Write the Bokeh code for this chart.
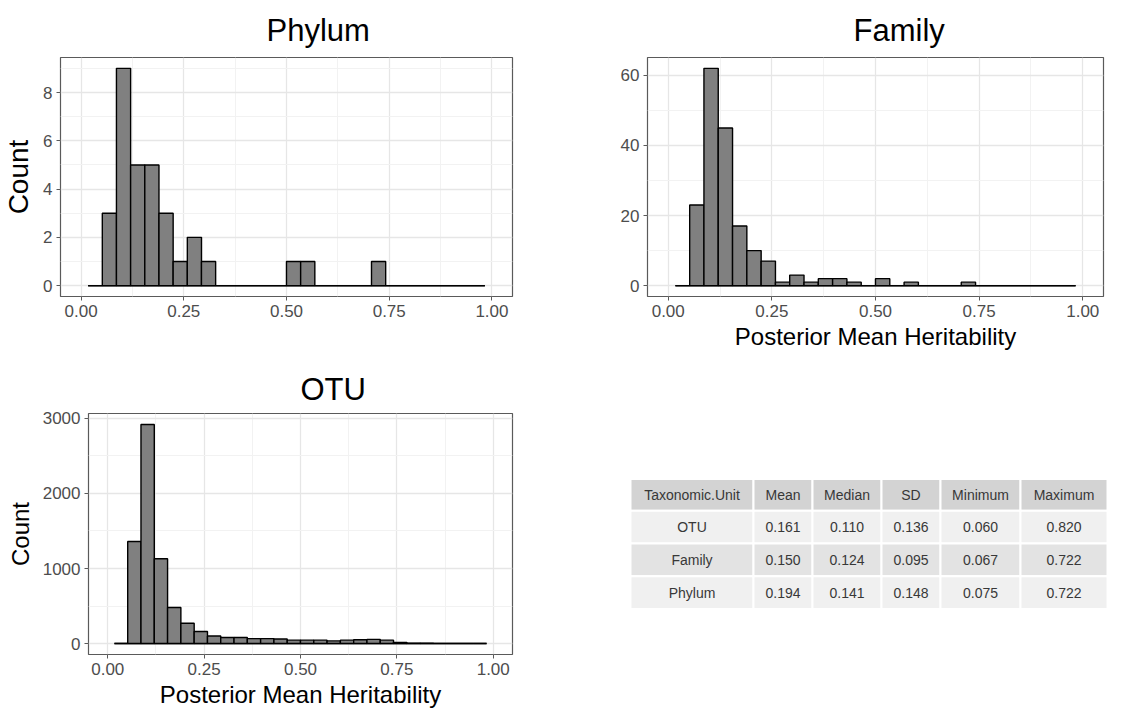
from bokeh.plotting import figure
from bokeh.models import Range1d, FixedTicker, NumeralTickFormatter, ColumnDataSource
from bokeh.layouts import column, row
from bokeh.embed import file_html
from bokeh.resources import INLINE
from bokeh.core.properties import value

# ---------------- data ----------------
bin_centers = [0.0345, 0.0690, 0.1034, 0.1379, 0.1724, 0.2069, 0.2414, 0.2759,
               0.3103, 0.3448, 0.3793, 0.4138, 0.4483, 0.4828, 0.5172, 0.5517,
               0.5862, 0.6207, 0.6552, 0.6897, 0.7241, 0.7586, 0.7931, 0.8276,
               0.8621, 0.8966, 0.9310, 0.9655]

phylum_counts = [0, 3, 9, 5, 5, 3, 1, 2, 1, 0, 0, 0, 0, 0,
                 1, 1, 0, 0, 0, 0, 1, 0, 0, 0, 0, 0, 0, 0]
family_counts = [0, 23, 62, 45, 17, 10, 7, 1, 3, 1, 2, 2, 1, 0,
                 2, 0, 1, 0, 0, 0, 1, 0, 0, 0, 0, 0, 0, 0]
otu_counts = [0, 1360, 2920, 1130, 480, 270, 160, 100, 80, 80, 65, 65, 60, 45,
              45, 45, 35, 45, 50, 55, 45, 15, 5, 3, 0, 0, 0, 0]

x_ticks = [0.0, 0.25, 0.5, 0.75, 1.0]
x_minor = [0.125, 0.375, 0.625, 0.875]
phylum_yticks = [0, 2, 4, 6, 8]
phylum_yminor = [1, 3, 5, 7, 9]
family_yticks = [0, 20, 40, 60]
family_yminor = [10, 30, 50]
otu_yticks = [0, 1000, 2000, 3000]
otu_yminor = [500, 1500, 2500]

table_header = ["Taxonomic.Unit", "Mean", "Median", "SD", "Minimum", "Maximum"]
tax_units = ["OTU", "Family", "Phylum"]
mean_vals = [0.161, 0.150, 0.194]
median_vals = [0.110, 0.124, 0.141]
sd_vals = [0.136, 0.095, 0.148]
min_vals = [0.060, 0.067, 0.075]
max_vals = [0.820, 0.722, 0.722]

FONT = "Liberation Sans"
BORDER = "#5a5a5a"


def hist_fig(title, counts, yticks, yminor, width, height, borders, ylabel, xlabel,
             title_standoff, title_offset, ylabel_size):
    left_b, right_b, top_b, bottom_b = borders
    ymax = max(counts)
    p = figure(width=width, height=height, output_backend="svg", toolbar_location=None,
               x_range=Range1d(-0.05, 1.05), y_range=Range1d(-0.05 * ymax, 1.05 * ymax),
               min_border_left=left_b, min_border_right=right_b,
               min_border_top=top_b, min_border_bottom=bottom_b,
               title=title)
    p.title.align = "left"
    p.title.offset = title_offset
    p.title.text_font = FONT
    p.title.text_font_size = "31px"
    p.title.text_font_style = "normal"
    p.title.text_color = "black"
    p.title.standoff = title_standoff
    p.outline_line_color = BORDER
    p.outline_line_width = 1.2
    p.background_fill_color = "white"
    p.border_fill_color = "white"

    w = bin_centers[1] - bin_centers[0]
    lefts = [c - w / 2 for c in bin_centers]
    rights = [c + w / 2 for c in bin_centers]
    src = ColumnDataSource(dict(left=lefts, right=rights, top=counts,
                                bottom=[0] * len(counts)))
    p.segment(x0=lefts[0], y0=0, x1=rights[-1], y1=0, line_color="black", line_width=1.5)
    p.quad(left="left", right="right", top="top", bottom="bottom", source=src,
           fill_color="#808080", line_color="black", line_width=1.4)

    p.xaxis.ticker = FixedTicker(ticks=x_ticks, minor_ticks=x_minor)
    p.yaxis.ticker = FixedTicker(ticks=yticks, minor_ticks=yminor)
    p.xaxis.formatter = NumeralTickFormatter(format="0.00")
    for ax in (p.xaxis, p.yaxis):
        ax.axis_line_color = None
        ax.major_tick_line_color = BORDER
        ax.major_tick_in = 0
        ax.major_tick_out = 4
        ax.minor_tick_line_color = None
        ax.major_label_text_font = FONT
        ax.major_label_text_font_size = "17px"
        ax.major_label_text_color = "#4d4d4d"
        ax.major_label_standoff = 4
        ax.axis_label_text_font = FONT
        ax.axis_label_text_font_size = "24px"
        ax.axis_label_text_font_style = "normal"
        ax.axis_label_text_color = "black"
        ax.axis_label_standoff = 3
    p.yaxis.axis_label_text_font_size = ylabel_size
    p.yaxis.axis_label_standoff = 6
    if ylabel:
        p.yaxis.axis_label = ylabel
    if xlabel:
        p.xaxis.axis_label = xlabel
    for g in (p.xgrid, p.ygrid):
        g.grid_line_color = "#e6e6e6"
        g.grid_line_width = 1.3
        g.minor_grid_line_color = "#f2f2f2"
        g.minor_grid_line_width = 1.0
    return p


p1 = hist_fig("Phylum", phylum_counts, phylum_yticks, phylum_yminor,
              568, 358, (58, 56, 56, 58), "Count", None, 20, 206, "28px")
p2 = hist_fig("Family", family_counts, family_yticks, family_yminor,
              578, 358, (79, 43, 56, 62), None, "Posterior Mean Heritability", 20, 206, "24px")
p3 = hist_fig("OTU", otu_counts, otu_yticks, otu_yminor,
              568, 352, (88, 56, 55, 54), "Count", "Posterior Mean Heritability", 13, 212, "24px")

# ---------------- table ----------------
TW, TH = 578, 352
T_TOP, T_BOTTOM = 55, 54
p4 = figure(width=TW, height=TH, output_backend="svg", toolbar_location=None,
            x_range=Range1d(0, TW), y_range=Range1d(TH - T_BOTTOM, T_TOP),
            x_axis_type=None, y_axis_type=None, title=None,
            min_border=0, min_border_left=0, min_border_right=0,
            min_border_top=T_TOP, min_border_bottom=T_BOTTOM)
p4.grid.visible = False
p4.outline_line_color = None

col_edges = [62, 185, 244, 313, 372, 452, 539]
row_edges = [121, 153, 186, 219, 252]
row_fills = ["#d3d3d3", "#f0f0f0", "#e3e3e3", "#f0f0f0"]

body_cols = [tax_units,
             ["%.3f" % v for v in mean_vals],
             ["%.3f" % v for v in median_vals],
             ["%.3f" % v for v in sd_vals],
             ["%.3f" % v for v in min_vals],
             ["%.3f" % v for v in max_vals]]
table_rows = [table_header] + [[body_cols[c][r] for c in range(len(table_header))]
                               for r in range(len(tax_units))]

cl, cr, ct, cb, cf, tx, ty, tt = [], [], [], [], [], [], [], []
for r, cells in enumerate(table_rows):
    for c, txt in enumerate(cells):
        cl.append(col_edges[c]); cr.append(col_edges[c + 1])
        ct.append(row_edges[r]); cb.append(row_edges[r + 1])
        cf.append(row_fills[r])
        tx.append((col_edges[c] + col_edges[c + 1]) / 2)
        ty.append((row_edges[r] + row_edges[r + 1]) / 2)
        tt.append(txt)
csrc = ColumnDataSource(dict(left=cl, right=cr, top=ct, bottom=cb, fill=cf,
                             x=tx, y=ty, text=tt))
p4.quad(left="left", right="right", top="top", bottom="bottom", fill_color="fill",
        line_color="white", line_width=2, source=csrc)
p4.text(x="x", y="y", text="text", source=csrc, text_align="center",
        text_baseline="middle", text_font=value(FONT), text_font_size="14px",
        text_color="#383838")

layout = column(row(p1, p2), row(p3, p4))
open("out.html", "w").write(file_html(layout, INLINE))
